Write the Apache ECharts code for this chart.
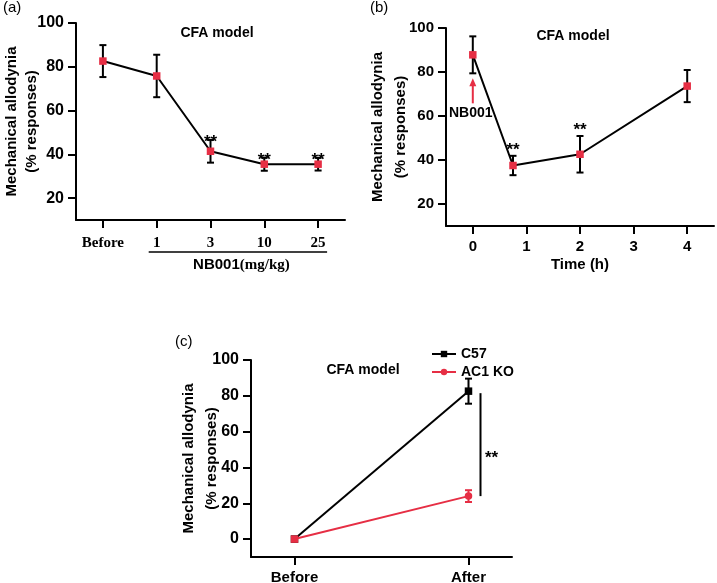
<!DOCTYPE html>
<html><head><meta charset="utf-8">
<script src="https://cdn.jsdelivr.net/npm/echarts@6/dist/echarts.min.js"></script>
<style>html,body{margin:0;padding:0;background:#fff}#c{width:717px;height:583px}</style>
</head><body><div id="c"></div>
<script>
// ---------- data ----------
const doseCats = ['Before', '1', '3', '10', '25'];
const doseMean = [82.6, 75.8, 41.4, 35.5, 35.5];
const doseErr  = [7.3, 9.7, 5.2, 3.0, 2.9];
const doseSig  = [0, 0, 1, 1, 1];

const timeHours = [0, 0.75, 2, 4];
const timeMean  = [87.8, 37.5, 42.6, 73.6];
const timeErr   = [8.4, 4.4, 8.3, 7.3];
const timeSig   = [0, 1, 1, 0];
const timeTicks = [0, 1, 2, 3, 4];

const koCats  = ['Before', 'After'];
const c57Mean = [0, 82.6];
const c57Err  = [0, 7.0];
const ac1Mean = [0, 24.0];
const ac1Err  = [0, 3.3];

const yTicksAB = [20, 40, 60, 80, 100];
const yTicksC  = [0, 20, 40, 60, 80, 100];

// ---------- styles ----------
const SANS = '"Liberation Sans", Arial, sans-serif';
const SERIF = '"Liberation Serif", "Times New Roman", serif';
const RED = '#e62e44';
const BLACK = '#000';

function errRender(color, capHalf, starGap) {
  return function (params, api) {
    const x = api.value(0), m = api.value(1), e = api.value(2), s = api.value(3);
    const t = api.coord([x, m + e]), b = api.coord([x, m - e]);
    const st = { stroke: color, lineWidth: 2 };
    const ch = [
      { type: 'line', shape: { x1: t[0], y1: t[1], x2: b[0], y2: b[1] }, style: st },
      { type: 'line', shape: { x1: t[0] - capHalf, y1: t[1], x2: t[0] + capHalf, y2: t[1] }, style: st },
      { type: 'line', shape: { x1: b[0] - capHalf, y1: b[1], x2: b[0] + capHalf, y2: b[1] }, style: st }
    ];
    if (s) ch.push({ type: 'text', z2: 10, style: { text: '**', x: t[0], y: t[1] - starGap, align: 'center', verticalAlign: 'bottom', font: 'bold 17px ' + SANS, fill: BLACK } });
    return { type: 'group', children: ch };
  };
}

const axisLineStyle = { show: true, onZero: false, lineStyle: { color: BLACK, width: 2 } };
const tickStyle = { show: true, length: 8, lineStyle: { color: BLACK, width: 2 } };

function yAxisCfg(grid, min, ticks, gap, lh, labelSize) {
  return {
    type: 'value', gridIndex: grid, min: min, max: 100,
    axisLine: axisLineStyle,
    axisTick: Object.assign({ customValues: ticks }, tickStyle),
    axisLabel: { customValues: ticks, color: BLACK, fontWeight: 'bold', fontSize: labelSize, fontFamily: SANS, margin: 12 },
    splitLine: { show: false },
    name: 'Mechanical allodynia\n(% responses)', nameLocation: 'middle', nameRotate: 90, nameGap: gap,
    nameMoveOverlap: false,
    nameTextStyle: { color: BLACK, fontWeight: 'bold', fontSize: 15, fontFamily: SANS, lineHeight: lh }
  };
}

const option = {
  backgroundColor: '#fff',
  animation: false,
  grid: [
    { left: 76, top: 23, width: 269, height: 197, containLabel: false, outerBoundsMode: 'none' },
    { left: 446, top: 28, width: 268, height: 198, containLabel: false, outerBoundsMode: 'none' },
    { left: 251, top: 360, width: 261, height: 197, containLabel: false, outerBoundsMode: 'none' }
  ],
  xAxis: [
    { type: 'category', gridIndex: 0, data: doseCats, boundaryGap: true,
      axisLine: axisLineStyle, axisTick: Object.assign({ alignWithLabel: true, interval: 0 }, tickStyle),
      axisLabel: { interval: 0, color: BLACK, fontWeight: 'bold', fontSize: 15, fontFamily: SERIF, margin: 16 } },
    { type: 'value', gridIndex: 1, min: -0.5, max: 4.5,
      axisLine: axisLineStyle, axisTick: Object.assign({ customValues: timeTicks }, tickStyle),
      axisLabel: { customValues: timeTicks, color: BLACK, fontWeight: 'bold', fontSize: 15, fontFamily: SANS, margin: 13 },
      splitLine: { show: false },
      name: 'Time (h)', nameLocation: 'middle', nameGap: 31, nameMoveOverlap: false,
      nameTextStyle: { color: BLACK, fontWeight: 'bold', fontSize: 15, fontFamily: SANS } },
    { type: 'value', gridIndex: 2, min: -0.25, max: 1.25,
      axisLine: axisLineStyle, axisTick: Object.assign({ customValues: [0, 1] }, tickStyle),
      axisLabel: { customValues: [0, 1], formatter: v => koCats[Math.round(v)], color: BLACK, fontWeight: 'bold', fontSize: 15, fontFamily: SANS, margin: 13 },
      splitLine: { show: false } }
  ],
  yAxis: [
    yAxisCfg(0, 10, yTicksAB, 34, 20, 16),
    yAxisCfg(1, 10, yTicksAB, 34, 23, 15),
    yAxisCfg(2, -10, yTicksC, 28, 23, 16)
  ],
  legend: {
    data: ['C57', 'AC1 KO'], orient: 'vertical', left: 426, top: 342,
    itemWidth: 24, itemHeight: 8, itemGap: 4,
    textStyle: { color: BLACK, fontWeight: 'bold', fontSize: 14, fontFamily: SANS }
  },
  graphic: [
    { type: 'text', left: 3, top: 0, style: { text: '(a)', font: '15px ' + SANS, fill: BLACK } },
    { type: 'text', left: 370, top: 0, style: { text: '(b)', font: '15px ' + SANS, fill: BLACK } },
    { type: 'text', left: 175, top: 334, style: { text: '(c)', font: '15px ' + SANS, fill: BLACK } },
    { type: 'text', x: 217, y: 33, style: { text: 'CFA model', font: 'bold 14px ' + SANS, fill: BLACK, align: 'center', verticalAlign: 'middle' } },
    { type: 'text', x: 573, y: 36, style: { text: 'CFA model', font: 'bold 14px ' + SANS, fill: BLACK, align: 'center', verticalAlign: 'middle' } },
    { type: 'text', x: 363, y: 370, style: { text: 'CFA model', font: 'bold 14px ' + SANS, fill: BLACK, align: 'center', verticalAlign: 'middle' } }
  ],
  series: [
    // (a)
    { type: 'custom', xAxisIndex: 0, yAxisIndex: 0, z: 2, renderItem: errRender(BLACK, 3.5, -11),
      data: doseCats.map((c, i) => [i, doseMean[i], doseErr[i], doseSig[i]]) },
    { type: 'line', xAxisIndex: 0, yAxisIndex: 0, z: 3, data: doseMean,
      symbol: 'rect', symbolSize: 7.5, itemStyle: { color: RED }, lineStyle: { color: BLACK, width: 2 } },
    { type: 'custom', xAxisIndex: 0, yAxisIndex: 0, z: 2, data: [[1, 10]],
      renderItem: function (params, api) {
        const p1 = api.coord([1, 10]), p4 = api.coord([4, 10]);
        const y = p1[1] + 32;
        return { type: 'group', children: [
          { type: 'line', shape: { x1: p1[0] - 8, y1: y, x2: p4[0] + 9, y2: y }, style: { stroke: BLACK, lineWidth: 1.5 } },
          { type: 'text', style: { x: (p1[0] + p4[0]) / 2 + 4, y: y + 13, align: 'center', verticalAlign: 'middle',
            text: '{s|NB001}{t|(mg/kg)}',
            rich: { s: { font: 'bold 15px ' + SANS, fill: BLACK }, t: { font: 'bold 15px ' + SERIF, fill: BLACK } } } }
        ] };
      } },
    // (b)
    { type: 'custom', xAxisIndex: 1, yAxisIndex: 1, z: 2, renderItem: errRender(BLACK, 3.5, -3),
      data: timeHours.map((h, i) => [h, timeMean[i], timeErr[i], timeSig[i]]) },
    { type: 'line', xAxisIndex: 1, yAxisIndex: 1, z: 3, data: timeHours.map((h, i) => [h, timeMean[i]]),
      symbol: 'rect', symbolSize: 7.5, itemStyle: { color: RED }, lineStyle: { color: BLACK, width: 2 } },
    { type: 'custom', xAxisIndex: 1, yAxisIndex: 1, z: 2, data: [[timeHours[0], timeMean[0] - timeErr[0]]],
      renderItem: function (params, api) {
        const b = api.coord([api.value(0), api.value(1)]);
        const x = b[0], y0 = b[1];
        return { type: 'group', children: [
          { type: 'line', shape: { x1: x, y1: y0 + 30, x2: x, y2: y0 + 12 }, style: { stroke: RED, lineWidth: 2 } },
          { type: 'polygon', shape: { points: [[x, y0 + 5], [x - 3.5, y0 + 13], [x + 3.5, y0 + 13]] }, style: { fill: RED } },
          { type: 'text', style: { text: 'NB001', x: x - 2, y: y0 + 40, align: 'center', verticalAlign: 'middle', font: 'bold 14px ' + SANS, fill: BLACK } }
        ] };
      } },
    // (c)
    { name: 'C57', type: 'line', xAxisIndex: 2, yAxisIndex: 2, z: 3,
      data: koCats.map((c, i) => [i, c57Mean[i]]),
      symbol: 'rect', symbolSize: 7.5, itemStyle: { color: BLACK }, lineStyle: { color: BLACK, width: 2 } },
    { name: 'AC1 KO', type: 'line', xAxisIndex: 2, yAxisIndex: 2, z: 4,
      data: koCats.map((c, i) => i === 0 ? { value: [i, ac1Mean[i]], symbol: 'rect' } : [i, ac1Mean[i]]),
      symbol: 'circle', symbolSize: 7.5, itemStyle: { color: RED }, lineStyle: { color: RED, width: 2 } },
    { type: 'custom', xAxisIndex: 2, yAxisIndex: 2, z: 2, renderItem: errRender(BLACK, 3.5, 0),
      data: koCats.map((c, i) => [i, c57Mean[i], c57Err[i], 0]).filter(d => d[2] > 0) },
    { type: 'custom', xAxisIndex: 2, yAxisIndex: 2, z: 2, renderItem: errRender(RED, 3.5, 0),
      data: koCats.map((c, i) => [i, ac1Mean[i], ac1Err[i], 0]).filter(d => d[2] > 0) },
    { type: 'custom', xAxisIndex: 2, yAxisIndex: 2, z: 2, data: [[1, c57Mean[1], ac1Mean[1]]],
      renderItem: function (params, api) {
        const t = api.coord([api.value(0), api.value(1)]), b = api.coord([api.value(0), api.value(2)]);
        const x = t[0] + 12;
        return { type: 'group', children: [
          { type: 'line', shape: { x1: x, y1: t[1] + 2, x2: x, y2: b[1] }, style: { stroke: BLACK, lineWidth: 2 } },
          { type: 'text', style: { text: '**', x: x + 11, y: (t[1] + b[1]) / 2 + 15, align: 'center', verticalAlign: 'middle', font: 'bold 17px ' + SANS, fill: BLACK } }
        ] };
      } }
  ]
};

const chart = echarts.init(document.getElementById('c'), null, { renderer: 'canvas' });
chart.setOption(option);
</script>
</body></html>
